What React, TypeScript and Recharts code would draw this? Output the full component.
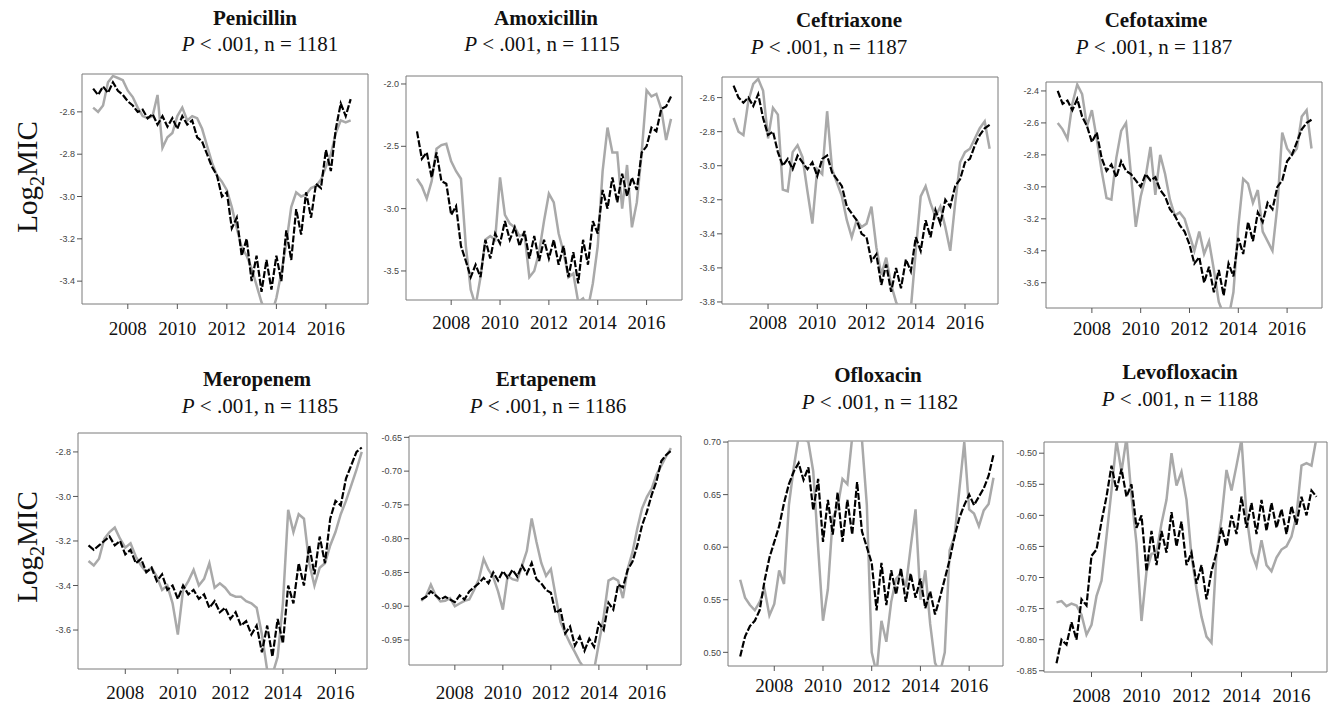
import React from 'react';
import { LineChart, Line, XAxis, YAxis, ReferenceArea } from 'recharts';

// ---- shared time axis (decimal years) ----
const TIME = [
  2006.6, 2006.8, 2007.0, 2007.2, 2007.4, 2007.6, 2007.8, 2008.0, 2008.2, 2008.4,
  2008.6, 2008.8, 2009.0, 2009.2, 2009.4, 2009.6, 2009.8, 2010.0, 2010.2, 2010.4,
  2010.6, 2010.8, 2011.0, 2011.2, 2011.4, 2011.6, 2011.8, 2012.0, 2012.2, 2012.4,
  2012.6, 2012.8, 2013.0, 2013.2, 2013.4, 2013.6, 2013.8, 2014.0, 2014.2, 2014.4,
  2014.6, 2014.8, 2015.0, 2015.2, 2015.4, 2015.6, 2015.8, 2016.0, 2016.2, 2016.4,
  2016.6, 2016.8, 2017.0,
];

const YEAR_TICKS = [2008, 2010, 2012, 2014, 2016];

// ---- Penicillin ----
const penicillinGray = [
  -2.58, -2.60, -2.57, -2.46, -2.43, -2.44, -2.45, -2.50, -2.53, -2.58,
  -2.62, -2.63, -2.62, -2.52, -2.77, -2.72, -2.70, -2.62, -2.58, -2.64,
  -2.62, -2.63, -2.68, -2.76, -2.84, -2.90, -2.93, -2.97, -3.05, -3.15,
  -3.24, -3.28, -3.34, -3.42, -3.50, -3.55, -3.56, -3.48, -3.36, -3.22,
  -3.05, -2.98, -3.00, -2.99, -2.96, -2.95, -2.92, -2.86, -2.80, -2.70,
  -2.64, -2.65, -2.64,
];
const penicillinBlack = [
  -2.49, -2.52, -2.48, -2.51, -2.46, -2.50, -2.52, -2.55, -2.57, -2.60,
  -2.59, -2.63, -2.61, -2.66, -2.62, -2.67, -2.63, -2.68, -2.62, -2.66,
  -2.64, -2.72, -2.74, -2.80, -2.86, -2.90, -3.00, -2.98, -3.15, -3.10,
  -3.28, -3.20, -3.40, -3.28, -3.45, -3.30, -3.44, -3.28, -3.40, -3.16,
  -3.30, -3.06, -3.18, -2.98, -3.10, -2.94, -2.96, -2.78, -2.88, -2.68,
  -2.56, -2.62, -2.54,
];

// ---- Amoxicillin ----
const amoxicillinGray = [
  -2.76, -2.82, -2.92, -2.78, -2.52, -2.49, -2.48, -2.62, -2.70, -2.76,
  -3.30, -3.65, -3.78, -3.55, -3.25, -3.22, -3.25, -2.75, -3.05, -3.12,
  -3.15, -3.22, -3.20, -3.55, -3.50, -3.35, -3.10, -2.88, -2.95, -3.20,
  -3.35, -3.55, -3.52, -3.75, -3.72, -3.80, -3.60, -3.30, -2.70, -2.35,
  -2.55, -2.55, -3.00, -2.65, -3.15, -2.95, -2.55, -2.05, -2.10, -2.08,
  -2.20, -2.45, -2.28,
];
const amoxicillinBlack = [
  -2.38, -2.60, -2.55, -2.75, -2.55, -2.78, -2.80, -3.05, -2.98, -3.30,
  -3.42, -3.55, -3.45, -3.55, -3.25, -3.40, -3.20, -3.28, -3.10, -3.25,
  -3.15, -3.30, -3.18, -3.40, -3.22, -3.42, -3.25, -3.40, -3.25, -3.45,
  -3.30, -3.55, -3.35, -3.60, -3.25, -3.45, -3.10, -3.20, -2.85, -3.00,
  -2.75, -2.95, -2.72, -2.90, -2.75, -2.85, -2.55, -2.50, -2.35, -2.38,
  -2.20, -2.18, -2.10,
];

// ---- Ceftriaxone ----
const ceftriaxoneGray = [
  -2.72, -2.80, -2.82, -2.62, -2.52, -2.49, -2.56, -2.84, -2.66, -2.70,
  -3.14, -3.15, -2.92, -2.88, -2.95, -3.15, -3.34, -3.02, -3.05, -2.68,
  -3.02, -3.10, -3.18, -3.32, -3.42, -3.32, -3.36, -3.34, -3.24, -3.48,
  -3.64, -3.54, -3.70, -3.80, -3.86, -3.88, -3.84, -3.50, -3.18, -3.12,
  -3.22, -3.30, -3.24, -3.36, -3.50, -3.22, -2.98, -2.92, -2.90, -2.84,
  -2.78, -2.74, -2.90,
];
const ceftriaxoneBlack = [
  -2.53, -2.60, -2.63, -2.60, -2.65, -2.58, -2.72, -2.82, -2.80, -2.92,
  -3.00, -2.96, -3.02, -2.94, -2.98, -3.02, -2.98, -3.06, -2.96, -2.94,
  -3.04, -3.08, -3.12, -3.24, -3.28, -3.32, -3.40, -3.42, -3.56, -3.52,
  -3.70, -3.58, -3.74, -3.60, -3.72, -3.55, -3.62, -3.42, -3.50, -3.32,
  -3.42, -3.26, -3.34, -3.20, -3.24, -3.12, -3.08, -2.98, -2.96, -2.88,
  -2.82, -2.78, -2.76,
];

// ---- Cefotaxime ----
const cefotaximeGray = [
  -2.60, -2.64, -2.70, -2.48, -2.36, -2.42, -2.62, -2.52, -2.70, -2.90,
  -3.07, -3.08, -2.82, -2.65, -2.60, -2.92, -3.25, -3.06, -2.94, -2.75,
  -3.05, -2.80, -2.92, -3.08, -3.18, -3.16, -3.20, -3.30, -3.40, -3.28,
  -3.42, -3.34, -3.52, -3.72, -3.80, -3.82, -3.66, -3.25, -2.95, -2.98,
  -3.10, -3.02, -3.28, -3.34, -3.40, -3.12, -2.66, -2.76, -2.80, -2.76,
  -2.56, -2.52, -2.76,
];
const cefotaximeBlack = [
  -2.40, -2.48, -2.46, -2.52, -2.45, -2.56, -2.62, -2.72, -2.66, -2.82,
  -2.90, -2.86, -2.94, -2.84, -2.90, -2.92, -2.96, -3.00, -2.92, -2.96,
  -2.94, -3.02, -3.06, -3.14, -3.18, -3.24, -3.28, -3.36, -3.48, -3.44,
  -3.60, -3.50, -3.66, -3.52, -3.68, -3.48, -3.56, -3.32, -3.42, -3.22,
  -3.34, -3.16, -3.22, -3.10, -3.14, -3.00, -2.96, -2.84, -2.80, -2.72,
  -2.64, -2.60, -2.58,
];

// ---- Meropenem ----
const meropenemGray = [
  -3.29, -3.31, -3.28, -3.19, -3.16, -3.14, -3.19, -3.23, -3.21, -3.27,
  -3.31, -3.34, -3.32, -3.36, -3.42, -3.40, -3.48, -3.62, -3.42, -3.38,
  -3.33, -3.40, -3.37, -3.30, -3.41, -3.39, -3.41, -3.44, -3.45, -3.45,
  -3.47, -3.48, -3.50, -3.62, -3.78, -3.80, -3.72, -3.48, -3.06, -3.16,
  -3.08, -3.10, -3.30, -3.40, -3.32, -3.30, -3.22, -3.16, -3.08, -3.02,
  -2.95, -2.88, -2.80,
];
const meropenemBlack = [
  -3.22, -3.24, -3.22, -3.20, -3.18, -3.22, -3.20, -3.26, -3.24, -3.30,
  -3.28, -3.34, -3.32, -3.38, -3.35, -3.42, -3.40, -3.46, -3.40, -3.44,
  -3.42, -3.46, -3.44, -3.50, -3.47, -3.52, -3.50, -3.55, -3.52, -3.58,
  -3.56, -3.62, -3.58, -3.70, -3.58, -3.72, -3.55, -3.66, -3.40, -3.48,
  -3.30, -3.40, -3.22, -3.35, -3.18, -3.30, -3.10, -3.02, -3.04, -2.92,
  -2.86, -2.80, -2.78,
];

// ---- Ertapenem ----
const ertapenemGray = [
  -0.892, -0.885, -0.868, -0.884, -0.893, -0.892, -0.888, -0.900, -0.896, -0.892,
  -0.890, -0.876, -0.860, -0.830, -0.846, -0.857, -0.878, -0.905, -0.855, -0.860,
  -0.862, -0.840, -0.818, -0.770, -0.805, -0.836, -0.855, -0.845, -0.885, -0.923,
  -0.940, -0.955, -0.968, -0.982, -0.992, -0.995, -0.994, -0.955, -0.915, -0.862,
  -0.858, -0.862, -0.888, -0.845, -0.820, -0.785, -0.755, -0.738, -0.726, -0.705,
  -0.692, -0.678, -0.666,
];
const ertapenemBlack = [
  -0.890, -0.886, -0.878, -0.884, -0.890, -0.886, -0.890, -0.894, -0.884, -0.890,
  -0.878, -0.872, -0.866, -0.858, -0.866, -0.850, -0.862, -0.848, -0.858, -0.846,
  -0.856, -0.840, -0.852, -0.836, -0.860, -0.866, -0.876, -0.880, -0.910, -0.905,
  -0.940, -0.930, -0.958, -0.945, -0.966, -0.948, -0.960, -0.925, -0.935, -0.895,
  -0.905, -0.868, -0.872, -0.846, -0.834, -0.810, -0.780, -0.760, -0.735, -0.715,
  -0.685, -0.676, -0.670,
];

// ---- Ofloxacin ----
const ofloxacinGray = [
  0.569, 0.552, 0.545, 0.540, 0.548, 0.560, 0.535, 0.546, 0.578, 0.565,
  0.640, 0.676, 0.705, 0.704, 0.700, 0.672, 0.600, 0.530, 0.560, 0.628,
  0.638, 0.665, 0.660, 0.705, 0.708, 0.702, 0.640, 0.500, 0.480, 0.530,
  0.510, 0.548, 0.570, 0.575, 0.562, 0.600, 0.636, 0.550, 0.578, 0.527,
  0.490, 0.480, 0.500, 0.597, 0.610, 0.655, 0.700, 0.636, 0.632, 0.620,
  0.635, 0.641, 0.666,
];
const ofloxacinBlack = [
  0.496, 0.515, 0.525, 0.530, 0.540, 0.568, 0.590, 0.605, 0.620, 0.642,
  0.660, 0.672, 0.680, 0.664, 0.676, 0.635, 0.665, 0.605, 0.645, 0.612,
  0.652, 0.605, 0.645, 0.612, 0.662, 0.615, 0.600, 0.585, 0.540, 0.585,
  0.545, 0.578, 0.555, 0.580, 0.548, 0.575, 0.552, 0.570, 0.542, 0.558,
  0.536, 0.552, 0.570, 0.588, 0.610, 0.628, 0.640, 0.650, 0.640, 0.648,
  0.656, 0.668, 0.688,
];

// ---- Levofloxacin ----
const levofloxacinGray = [
  -0.740, -0.738, -0.746, -0.742, -0.745, -0.760, -0.792, -0.776, -0.730, -0.705,
  -0.634, -0.560, -0.480, -0.530, -0.475, -0.570, -0.645, -0.770, -0.690, -0.662,
  -0.660, -0.613, -0.575, -0.500, -0.552, -0.530, -0.575, -0.666, -0.718, -0.763,
  -0.795, -0.805, -0.660, -0.605, -0.527, -0.560, -0.520, -0.478, -0.600, -0.660,
  -0.682, -0.640, -0.680, -0.690, -0.668, -0.655, -0.650, -0.634, -0.600, -0.520,
  -0.516, -0.520, -0.475,
];
const levofloxacinBlack = [
  -0.838, -0.800, -0.808, -0.772, -0.800, -0.735, -0.745, -0.665, -0.655, -0.610,
  -0.570, -0.520, -0.560, -0.525, -0.570, -0.550, -0.620, -0.600, -0.690, -0.625,
  -0.680, -0.625, -0.660, -0.595, -0.650, -0.610, -0.680, -0.660, -0.710, -0.680,
  -0.735, -0.690, -0.660, -0.620, -0.650, -0.600, -0.630, -0.570, -0.620, -0.580,
  -0.630, -0.575, -0.625, -0.580, -0.620, -0.590, -0.630, -0.585, -0.615, -0.570,
  -0.600, -0.560, -0.570,
];

// ---- tick labels ----
const ticksPen = [-3.4, -3.2, -3.0, -2.8, -2.6];
const ticksAmox = [-3.5, -3.0, -2.5, -2.0];
const ticksCeftr = [-3.8, -3.6, -3.4, -3.2, -3.0, -2.8, -2.6];
const ticksCefot = [-3.6, -3.4, -3.2, -3.0, -2.8, -2.6, -2.4];
const ticksMero = [-3.6, -3.4, -3.2, -3.0, -2.8];
const ticksErta = [-0.95, -0.9, -0.85, -0.8, -0.75, -0.7, -0.65];
const ticksOflo = [0.5, 0.55, 0.6, 0.65, 0.7];
const ticksLevo = [-0.85, -0.8, -0.75, -0.7, -0.65, -0.6, -0.55, -0.5];

type Panel = {
  name: string;
  n: number;
  gray: number[];
  black: number[];
  box: [number, number, number, number]; // left, top, right, bottom
  xDomain: [number, number];
  yDomain: [number, number];
  yTicks: number[];
  dec: number;
  title: [number, number];
  pline: [number, number];
  labOff: number;
};

const PANELS: Panel[] = [
  { name: 'Penicillin', n: 1181, gray: penicillinGray, black: penicillinBlack, box: [82, 74, 368, 304], xDomain: [2006.15, 2017.7], yDomain: [-3.508, -2.421], yTicks: ticksPen, dec: 1, title: [255, 18], pline: [260, 44], labOff: 24 },
  { name: 'Amoxicillin', n: 1115, gray: amoxicillinGray, black: amoxicillinBlack, box: [406, 76, 682, 300], xDomain: [2006.15, 2017.45], yDomain: [-3.733, -1.936], yTicks: ticksAmox, dec: 1, title: [546, 18], pline: [542, 44], labOff: 22 },
  { name: 'Ceftriaxone', n: 1187, gray: ceftriaxoneGray, black: ceftriaxoneBlack, box: [722, 77, 998, 304], xDomain: [2006.13, 2017.34], yDomain: [-3.812, -2.479], yTicks: ticksCeftr, dec: 1, title: [849, 20], pline: [829, 47], labOff: 18 },
  { name: 'Cefotaxime', n: 1187, gray: cefotaximeGray, black: cefotaximeBlack, box: [1046, 82, 1322, 308], xDomain: [2006.12, 2017.43], yDomain: [-3.758, -2.344], yTicks: ticksCefot, dec: 1, title: [1156, 20], pline: [1154, 47], labOff: 20 },
  { name: 'Meropenem', n: 1185, gray: meropenemGray, black: meropenemBlack, box: [78, 433, 367, 669], xDomain: [2006.2, 2017.2], yDomain: [-3.775, -2.715], yTicks: ticksMero, dec: 1, title: [257, 379], pline: [260, 406], labOff: 23 },
  { name: 'Ertapenem', n: 1186, gray: ertapenemGray, black: ertapenemBlack, box: [409, 436, 681, 665], xDomain: [2006.09, 2017.42], yDomain: [-0.987, -0.648], yTicks: ticksErta, dec: 2, title: [546, 379], pline: [548, 406], labOff: 27 },
  { name: 'Ofloxacin', n: 1182, gray: ofloxacinGray, black: ofloxacinBlack, box: [728, 441, 1003, 666], xDomain: [2006.1, 2017.39], yDomain: [0.487, 0.701], yTicks: ticksOflo, dec: 2, title: [878, 375], pline: [880, 402], labOff: 19 },
  { name: 'Levofloxacin', n: 1188, gray: levofloxacinGray, black: levofloxacinBlack, box: [1044, 442, 1327, 672], xDomain: [2006.1, 2017.42], yDomain: [-0.852, -0.482], yTicks: ticksLevo, dec: 2, title: [1180, 372], pline: [1180, 399], labOff: 23 },
];

const SERIF = "'Liberation Serif', 'Times New Roman', serif";
const SANS = "'Liberation Sans', Arial, sans-serif";

const AXIS_W = 50;
const AXIS_H = 40;

function PanelChart({ p }: { p: Panel }) {
  const [l, t, r, b] = p.box;
  const rows = TIME.map((tt, i) => ({ t: tt, gray: p.gray[i], black: p.black[i] }));
  const width = r - l + AXIS_W + 2;
  const height = b - t + AXIS_H + 5;
  const off = p.labOff;
  return (
    <div style={{ position: 'absolute', left: l - AXIS_W, top: t - 5 }}>
      <LineChart width={width} height={height} data={rows} margin={{ top: 5, right: 2, left: 0, bottom: 0 }}>
        <XAxis
          dataKey="t"
          type="number"
          domain={p.xDomain}
          ticks={YEAR_TICKS}
          interval={0}
          allowDataOverflow
          axisLine={false}
          tickSize={5}
          tickLine={{ stroke: '#555' }}
          height={AXIS_H}
          tick={(props: any) => (
            <text
              x={props.x}
              y={props.y + off}
              textAnchor="middle"
              fontSize={19}
              fontFamily={SERIF}
              fill="#111"
            >
              {props.payload.value}
            </text>
          )}
        />
        <YAxis
          type="number"
          domain={p.yDomain}
          ticks={p.yTicks}
          interval={0}
          allowDataOverflow
          axisLine={false}
          width={AXIS_W}
          tickSize={5}
          tickLine={{ stroke: '#555' }}
          tick={{ fontSize: 9, fill: '#444', fontFamily: SANS }}
          tickFormatter={(v: number) => v.toFixed(p.dec)}
        />
        <Line
          type="linear"
          dataKey="gray"
          stroke="#a9a9a9"
          strokeWidth={2.5}
          dot={false}
          activeDot={false}
          isAnimationActive={false}
        />
        <Line
          type="linear"
          dataKey="black"
          stroke="#000"
          strokeWidth={2.2}
          strokeDasharray="7 2"
          dot={false}
          activeDot={false}
          isAnimationActive={false}
        />
        <ReferenceArea
          x1={p.xDomain[0]}
          x2={p.xDomain[1]}
          y1={p.yDomain[0]}
          y2={p.yDomain[1]}
          fill="none"
          fillOpacity={0}
          stroke="#7a7a7a"
          strokeWidth={1}
          ifOverflow="visible"
        />
      </LineChart>
    </div>
  );
}

function Titles({ p }: { p: Panel }) {
  return (
    <>
      <div
        style={{
          position: 'absolute', left: p.title[0] - 150, top: p.title[1] - 12, width: 300, height: 24,
          lineHeight: '24px', textAlign: 'center', fontFamily: SERIF, fontWeight: 'bold', fontSize: 21, color: '#111',
        }}
      >
        {p.name}
      </div>
      <div
        style={{
          position: 'absolute', left: p.pline[0] - 150, top: p.pline[1] - 12, width: 300, height: 24,
          lineHeight: '24px', textAlign: 'center', fontFamily: SERIF, fontSize: 21, color: '#111',
        }}
      >
        <i>P</i> &lt; .001, n = {p.n}
      </div>
    </>
  );
}

function YLabel({ cy }: { cy: number }) {
  return (
    <svg style={{ position: 'absolute', left: 0, top: cy - 100 }} width={60} height={200}>
      <text transform="translate(37,100) rotate(-90)" textAnchor="middle" fontSize={29} fontFamily={SERIF} fill="#111">
        Log<tspan fontSize={20} dy={7}>2</tspan>
        <tspan dy={-7}>MIC</tspan>
      </text>
    </svg>
  );
}

export default function App() {
  return (
    <div style={{ position: 'absolute', left: 0, top: 0, width: 1328, height: 707, background: '#fff', overflow: 'hidden' }}>
      {PANELS.map((p) => (
        <React.Fragment key={p.name}>
          <Titles p={p} />
          <PanelChart p={p} />
        </React.Fragment>
      ))}
      <YLabel cy={177} />
      <YLabel cy={547} />
    </div>
  );
}
